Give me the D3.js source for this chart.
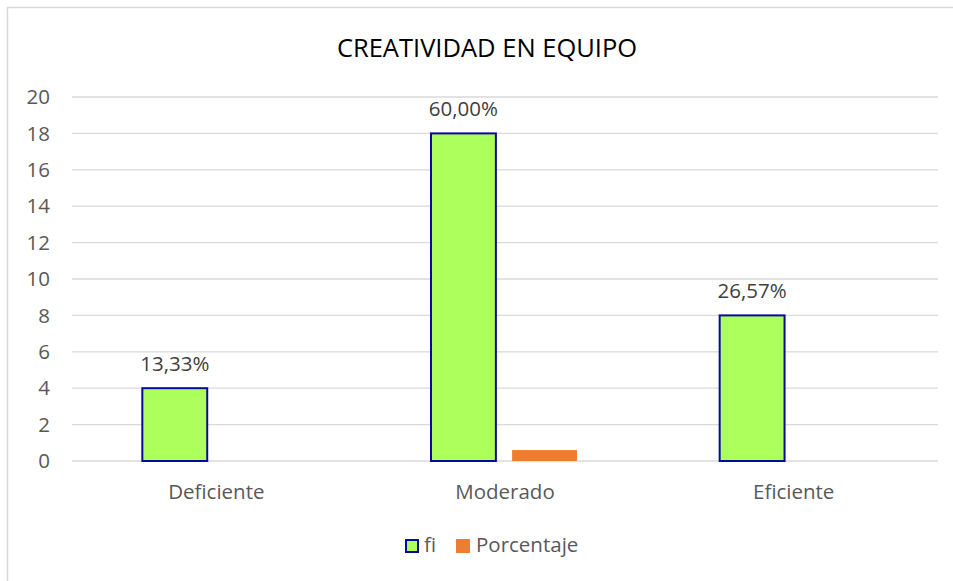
<!DOCTYPE html>
<html>
<head>
<meta charset="utf-8">
<script src="https://cdn.jsdelivr.net/npm/d3@7"></script>
<style>
  body { margin: 0; background: #fff; }
  text { font-family: "Open Sans", "Noto Sans", sans-serif; }
</style>
</head>
<body>
<div id="chart"></div>
<script>
// chart data
var categories = ["Deficiente", "Moderado", "Eficiente"]
var fiValues = [4, 18, 8]
var porcentajeValues = [0, 0.6, 0]
var pctLabels = ["13,33%", "60,00%", "26,57%"]
var yTicks = [0, 2, 4, 6, 8, 10, 12, 14, 16, 18, 20]
var seriesNames = ["fi", "Porcentaje"]

var width = 953,
    height = 581
var margin = {top: 97, right: 15, bottom: 120, left: 72}
var plotW = 938 - margin.left,
    plotH = 461 - margin.top
var fontSize = 20.5

var svg = d3.select("#chart")
  .append("svg")
    .attr("width", width)
    .attr("height", height)

// outer frame
svg.append("rect")
  .attr("x", 7.5).attr("y", 7.5)
  .attr("width", width + 10).attr("height", height)
  .attr("fill", "none")
  .attr("stroke", "#d9d9d9")
  .attr("stroke-width", 1.5)

svg.append("text")
  .attr("x", 487).attr("y", 57)
  .attr("text-anchor", "middle")
  .attr("font-size", 25.5)
  .attr("fill", "#000")
  .text("CREATIVIDAD EN EQUIPO")

var g = svg.append("g")
  .attr("transform", "translate(" + margin.left + "," + margin.top + ")")

var x = d3.scaleBand()
  .domain(categories)
  .range([0, plotW])

var xInner = d3.scaleBand()
  .domain(seriesNames)
  .range([x.bandwidth() / 2 - 74, x.bandwidth() / 2 + 72])
  .paddingInner(0.2)

var y = d3.scaleLinear()
  .domain([0, 20])
  .range([plotH, 0])

// gridlines
g.selectAll(".grid")
  .data(yTicks)
  .enter()
  .append("line")
    .attr("x1", 0).attr("x2", plotW)
    .attr("y1", d => y(d)).attr("y2", d => y(d))
    .attr("stroke", "#d9d9d9")
    .attr("stroke-width", 1.3)

// y tick labels
g.selectAll(".ytick")
  .data(yTicks)
  .enter()
  .append("text")
    .attr("x", -22)
    .attr("y", d => y(d))
    .attr("dy", "0.35em")
    .attr("text-anchor", "end")
    .attr("font-size", fontSize)
    .attr("fill", "#595959")
    .text(d => d)

// category labels
g.selectAll(".xtick")
  .data(categories)
  .enter()
  .append("text")
    .attr("x", d => x(d) + x.bandwidth() / 2)
    .attr("y", plotH + 38)
    .attr("text-anchor", "middle")
    .attr("font-size", fontSize)
    .attr("fill", "#595959")
    .text(d => d)

// fi bars
g.selectAll(".fi")
  .data(fiValues)
  .enter()
  .append("rect")
    .attr("x", (d, i) => x(categories[i]) + xInner("fi"))
    .attr("y", d => y(d))
    .attr("width", xInner.bandwidth())
    .attr("height", d => plotH - y(d))
    .attr("fill", "#adff5b")
    .attr("stroke", "#0a0a9a")
    .attr("stroke-width", 2)

// porcentaje bars
g.selectAll(".pct")
  .data(porcentajeValues)
  .enter()
  .append("rect")
    .attr("x", (d, i) => x(categories[i]) + xInner("Porcentaje"))
    .attr("y", d => y(d))
    .attr("width", xInner.bandwidth())
    .attr("height", d => plotH - y(d))
    .attr("fill", "#ed7d31")

// labels above fi bars
g.selectAll(".lbl")
  .data(fiValues)
  .enter()
  .append("text")
    .attr("x", (d, i) => x(categories[i]) + xInner("fi") + xInner.bandwidth() / 2)
    .attr("y", d => y(d) - 17)
    .attr("text-anchor", "middle")
    .attr("font-size", fontSize)
    .attr("fill", "#404040")
    .text((d, i) => pctLabels[i])

// legend
var legend = svg.append("g").attr("transform", "translate(405,539)")
legend.append("rect")
  .attr("x", 1).attr("y", 1).attr("width", 12).attr("height", 12)
  .attr("fill", "#adff5b").attr("stroke", "#0a0a9a").attr("stroke-width", 2)
legend.append("text")
  .attr("x", 19).attr("y", 13)
  .attr("font-size", fontSize).attr("fill", "#595959")
  .text(seriesNames[0])
legend.append("rect")
  .attr("x", 51).attr("y", 0).attr("width", 14).attr("height", 14)
  .attr("fill", "#ed7d31")
legend.append("text")
  .attr("x", 71).attr("y", 13)
  .attr("font-size", fontSize).attr("fill", "#595959")
  .text(seriesNames[1])
</script>
</body>
</html>
